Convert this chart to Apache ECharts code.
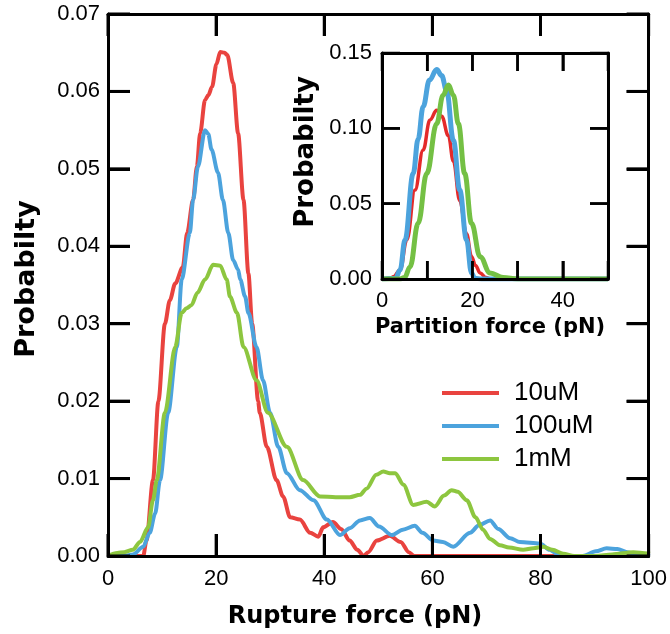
<!DOCTYPE html>
<html>
<head>
<meta charset="utf-8">
<script src="https://cdn.jsdelivr.net/npm/echarts@6/dist/echarts.min.js"></script>
<style>
  html, body { margin: 0; padding: 0; background: #fff; }
  #wrap { position: relative; width: 670px; height: 634px; }
  .layer { position: absolute; left: 0; top: 0; width: 670px; height: 634px; }
</style>
</head>
<body>
<div id="wrap">
  <div class="layer" id="mainCurves"></div>
  <div class="layer" id="insetCurves"></div>
  <div class="layer" id="frames"></div>
</div>
<script>
// ---- Rupture force distributions (main panel) ----
const seriesNames = ['10uM', '100uM', '1mM'];

const rupture10uMForce = [0, 5, 6.5, 7.1, 8.3, 9.3, 10.5, 11.4, 12.4, 13.8, 14.6, 15.7, 16.4, 17, 17.9, 18.5, 19.2, 20, 20.7, 21.5, 22, 23.1, 24, 25, 25.9, 26.6, 27.7, 28, 29.3, 31.1, 32.3, 33.6, 35.4, 37.3, 38.8, 39.7, 41.5, 43, 44.6, 46, 47.2, 48, 49.6, 52, 54, 55.5, 56.5, 60, 100];
const rupture10uMProb  = [0, 0, 0, 0.002, 0.0098, 0.020, 0.030, 0.033, 0.0352, 0.0373, 0.0417, 0.046, 0.0503, 0.0546, 0.0589, 0.0595, 0.0606, 0.0635, 0.0651, 0.065, 0.0647, 0.0611, 0.0546, 0.046, 0.0365, 0.030, 0.020, 0.0185, 0.0141, 0.0098, 0.0077, 0.005, 0.0047, 0.003, 0.0025, 0.0037, 0.0044, 0.0035, 0.002, 0.0008, 0, 0.0005, 0.002, 0.0026, 0.0018, 0.0005, 0, 0, 0];

const rupture100uMForce = [0, 3, 4.6, 6.5, 7.7, 8.7, 9.6, 11.1, 12.7, 13.6, 15.1, 15.7, 16.6, 17.9, 18.5, 19.1, 20.3, 21.2, 22.2, 23.1, 24, 24.4, 25.3, 25.9, 27.4, 28.6, 29.9, 31.4, 33, 35.4, 37.9, 40.4, 42.8, 44.6, 46.5, 48.3, 50, 52.4, 54.4, 56.6, 58, 60, 61.8, 63.7, 66.8, 68.5, 70.5, 72, 74.2, 76, 79.7, 81.5, 82.8, 84, 87.6, 90, 92, 94, 95.8, 98, 100];
const rupture100uMProb  = [0, 0, 0.0002, 0.0012, 0.003, 0.0055, 0.0098, 0.0185, 0.027, 0.0357, 0.0417, 0.046, 0.0503, 0.055, 0.0545, 0.0525, 0.0495, 0.046, 0.0417, 0.0382, 0.037, 0.0357, 0.0335, 0.0314, 0.027, 0.0227, 0.0185, 0.0141, 0.0107, 0.0085, 0.0072, 0.0047, 0.0027, 0.0036, 0.0046, 0.0049, 0.0038, 0.0027, 0.0034, 0.0039, 0.003, 0.002, 0.0018, 0.0012, 0.003, 0.004, 0.0046, 0.0035, 0.0023, 0.0018, 0.0016, 0.0008, 0.0003, 0, 0, 0.0006, 0.001, 0.0009, 0.0005, 0.0001, 0];

const rupture1mMForce = [0, 1.7, 3, 4.6, 5.9, 7.4, 8.3, 9, 10.5, 12.4, 13.6, 14.5, 15.4, 16.5, 17.9, 19.4, 20.7, 21.9, 22.5, 23.8, 25, 27.4, 29.5, 33, 36, 39.1, 42, 44.6, 46.5, 47.7, 49.5, 50.8, 52, 53, 54.5, 56.3, 58.8, 60.3, 62, 63.4, 64.5, 66.2, 67.8, 69.2, 70.5, 72.3, 74, 76.6, 78.5, 80.3, 82, 84, 86, 90, 93, 96.9, 100];
const rupture1mMProb  = [0, 0.0004, 0.0005, 0.0008, 0.0018, 0.0037, 0.0072, 0.0098, 0.0185, 0.027, 0.0314, 0.032, 0.0324, 0.034, 0.0357, 0.0376, 0.0375, 0.0357, 0.0335, 0.0314, 0.027, 0.0227, 0.0185, 0.0141, 0.0098, 0.0077, 0.0076, 0.0076, 0.0079, 0.0087, 0.0105, 0.0109, 0.0107, 0.0107, 0.0092, 0.0066, 0.007, 0.0064, 0.0078, 0.0085, 0.0083, 0.0072, 0.005, 0.0034, 0.0022, 0.0014, 0.0011, 0.0008, 0.001, 0.0012, 0.0008, 0.0003, 0, 0, 0.0002, 0.0005, 0.0003];

// ---- Partition force distributions (inset) ----
const partition10uMForce = [0, 2, 2.5, 4, 5.5, 7.3, 9.1, 10.6, 12.1, 13.2, 14.7, 15.8, 17.2, 18.7, 19.8, 20.7, 21.7, 23, 24, 50];
const partition10uMProb  = [0, 0.0005, 0.0015, 0.006, 0.026, 0.059, 0.0856, 0.1055, 0.112, 0.108, 0.095, 0.078, 0.052, 0.030, 0.015, 0.009, 0.004, 0.001, 0, 0];

const partition100uMForce = [0, 3, 4, 5.1, 6.9, 8, 9.1, 10.5, 12.1, 13.2, 14.3, 15.8, 17.2, 18.7, 19.8, 20.5, 22, 50];
const partition100uMProb  = [0, 0.0005, 0.006, 0.026, 0.070, 0.093, 0.1143, 0.132, 0.139, 0.135, 0.125, 0.092, 0.059, 0.026, 0.004, 0.0005, 0, 0];

const partition1mMForce = [0, 4, 5, 6.2, 8, 9.9, 12.1, 13.5, 14.7, 15.8, 16.9, 18.3, 19.8, 21.7, 23.9, 26.8, 30, 50];
const partition1mMProb  = [0, 0, 0.001, 0.008, 0.037, 0.070, 0.103, 0.122, 0.1287, 0.122, 0.103, 0.070, 0.037, 0.0148, 0.004, 0.001, 0, 0];

// ---- Axis ranges and tick positions ----
const mainForceTicks  = { min: 0, max: 100, interval: 20 };
const mainProbTicks   = { min: 0, max: 0.07, interval: 0.01 };
const insetForceTicks = { min: 0, max: 50, interval: 10 };
const insetProbTicks  = { min: 0, max: 0.15, interval: 0.05 };

const mainForceTickValues  = [0, 20, 40, 60, 80, 100];
const mainProbTickValues   = [0, 0.01, 0.02, 0.03, 0.04, 0.05, 0.06, 0.07];
const insetForceTickValues = [0, 10, 20, 30, 40, 50];
const insetProbTickValues  = [0, 0.05, 0.10, 0.15];

// ---- Axis titles ----
const mainXTitle = 'Rupture force (pN)';
const insetXTitle = 'Partition force (pN)';
const yTitle = 'Probabilty';

// ---- Styling ----
const mainColors  = ['#E9433F', '#4CA3DD', '#8DC63F'];
const insetColors = ['#E42A2A', '#4CA3DD', '#74C044'];
const insetWidths = [3.5, 5, 5];
const labelFont = 'Liberation Sans, Arial, sans-serif';
const titleFont = 'DejaVu Sans, sans-serif';

const mainGrid  = { left: 108, right: 20, top: 14, bottom: 78 };
const insetGrid = { left: 382, right: 62, top: 53, bottom: 355 };

function pairs(xs, ys) { return xs.map((x, i) => [x, ys[i]]); }

// Framed value axis; the mirror axes on top/right carry no labels.
function frameAxis(grid, ticks, pos, o) {
  return {
    type: 'value', gridIndex: grid, position: pos,
    min: ticks.min, max: ticks.max, interval: ticks.interval,
    splitLine: { show: false },
    axisLine: { show: true, onZero: false, lineStyle: { color: '#000', width: 3 } },
    axisTick: { show: true, inside: true, length: o.tickLen, lineStyle: { color: '#000', width: o.tickW } },
    axisLabel: { show: !!o.label, margin: o.margin || 8, color: '#000', fontSize: 22, fontFamily: labelFont,
                 showMinLabel: true, showMaxLabel: true, formatter: o.formatter }
  };
}

// Invisible axis sharing the frame's scale, used by the curve layers.
function scaleAxis(ticks) {
  return { type: 'value', show: false, min: ticks.min, max: ticks.max, interval: ticks.interval, splitLine: { show: false } };
}

// Inward tick marks on both opposite sides of a frame, placed through the axis scales.
function tickMarks(axisIdx, values, along, xTicks, yTicks, len, width) {
  const style = { stroke: '#000', lineWidth: width };
  return {
    type: 'custom', xAxisIndex: axisIdx, yAxisIndex: axisIdx, silent: true, z: 10,
    data: values.map(v => (along === 'x' ? [v, yTicks.min] : [xTicks.min, v])),
    renderItem: function (params, api) {
      if (along === 'x') {
        const v = api.value(0);
        const b = api.coord([v, yTicks.min]);
        const t = api.coord([v, yTicks.max]);
        return { type: 'group', children: [
          { type: 'line', shape: { x1: b[0], y1: b[1], x2: b[0], y2: b[1] - len }, style: style },
          { type: 'line', shape: { x1: t[0], y1: t[1], x2: t[0], y2: t[1] + len }, style: style }
        ] };
      }
      const v = api.value(1);
      const l = api.coord([xTicks.min, v]);
      const r = api.coord([xTicks.max, v]);
      return { type: 'group', children: [
        { type: 'line', shape: { x1: l[0], y1: l[1], x2: l[0] + len, y2: l[1] }, style: style },
        { type: 'line', shape: { x1: r[0], y1: r[1], x2: r[0] - len, y2: r[1] }, style: style }
      ] };
    }
  };
}

function titleText(text, x, y, size, vertical) {
  return {
    type: 'text', x: x, y: y, rotation: vertical ? Math.PI / 2 : 0, silent: true,
    style: { text: text, fill: '#000', fontSize: size, fontWeight: 'bold', fontFamily: titleFont,
             align: 'center', verticalAlign: 'middle' }
  };
}

function curveSeries(dataSets, colors, widths, smooth) {
  return dataSets.map((data, i) => ({
    name: seriesNames[i], type: 'line', data: data, showSymbol: false,
    smooth: smooth, smoothMonotone: 'x',
    itemStyle: { color: colors[i] }, lineStyle: { width: widths[i], color: colors[i] }
  }));
}

const fmtMainX = v => String(v);
const fmtProb = v => v.toFixed(2);
const fmtInsetX = v => (Math.round(v) % 20 === 0 ? String(v) : '');

// ---- Main curves, legend and titles ----
const mainCurvesOption = {
  backgroundColor: '#fff',
  animation: false,
  grid: mainGrid,
  xAxis: scaleAxis(mainForceTicks),
  yAxis: scaleAxis(mainProbTicks),
  legend: {
    orient: 'vertical', left: 437, top: 375,
    itemWidth: 57, itemHeight: 4, itemGap: 7, icon: 'rect',
    data: seriesNames,
    textStyle: { fontSize: 26, lineHeight: 26, fontFamily: labelFont, color: '#000', padding: [0, 0, 0, 10] }
  },
  graphic: [
    titleText(mainXTitle, 355, 617, 24, false),
    titleText(yTitle, 27, 279, 27, true)
  ],
  series: curveSeries([
    pairs(rupture10uMForce, rupture10uMProb),
    pairs(rupture100uMForce, rupture100uMProb),
    pairs(rupture1mMForce, rupture1mMProb)
  ], mainColors, [4, 4, 4], 0.3)
};

// ---- Inset curves and titles ----
const insetCurvesOption = {
  backgroundColor: 'rgba(0,0,0,0)',
  animation: false,
  grid: insetGrid,
  xAxis: scaleAxis(insetForceTicks),
  yAxis: scaleAxis(insetProbTicks),
  graphic: [
    titleText(insetXTitle, 490, 328, 21, false),
    titleText(yTitle, 306, 152, 26, true)
  ],
  series: curveSeries([
    pairs(partition10uMForce, partition10uMProb),
    pairs(partition100uMForce, partition100uMProb),
    pairs(partition1mMForce, partition1mMProb)
  ], insetColors, insetWidths, 0.4)
};

// ---- Frames, ticks and tick labels of both panels ----
const framesOption = {
  backgroundColor: 'rgba(0,0,0,0)',
  animation: false,
  grid: [mainGrid, insetGrid],
  xAxis: [
    frameAxis(0, mainForceTicks, 'bottom', { tickLen: 22, tickW: 3, label: true, margin: 12, formatter: fmtMainX }),
    frameAxis(1, insetForceTicks, 'bottom', { tickLen: 18, tickW: 2.5, label: true, margin: 11, formatter: fmtInsetX }),
    frameAxis(0, mainForceTicks, 'top', { tickLen: 22, tickW: 3 }),
    frameAxis(1, insetForceTicks, 'top', { tickLen: 18, tickW: 2.5 })
  ],
  yAxis: [
    frameAxis(0, mainProbTicks, 'left', { tickLen: 22, tickW: 3, label: true, margin: 8, formatter: fmtProb }),
    frameAxis(1, insetProbTicks, 'left', { tickLen: 18, tickW: 2.5, label: true, margin: 10, formatter: fmtProb }),
    frameAxis(0, mainProbTicks, 'right', { tickLen: 22, tickW: 3 }),
    frameAxis(1, insetProbTicks, 'right', { tickLen: 18, tickW: 2.5 })
  ],
  series: [
    tickMarks(0, mainForceTickValues, 'x', mainForceTicks, mainProbTicks, 22, 3),
    tickMarks(0, mainProbTickValues, 'y', mainForceTicks, mainProbTicks, 22, 3),
    tickMarks(1, insetForceTickValues, 'x', insetForceTicks, insetProbTicks, 18, 2.5),
    tickMarks(1, insetProbTickValues, 'y', insetForceTicks, insetProbTicks, 18, 2.5)
  ]
};

echarts.init(document.getElementById('mainCurves')).setOption(mainCurvesOption);
echarts.init(document.getElementById('insetCurves')).setOption(insetCurvesOption);
echarts.init(document.getElementById('frames')).setOption(framesOption);
</script>
</body>
</html>
